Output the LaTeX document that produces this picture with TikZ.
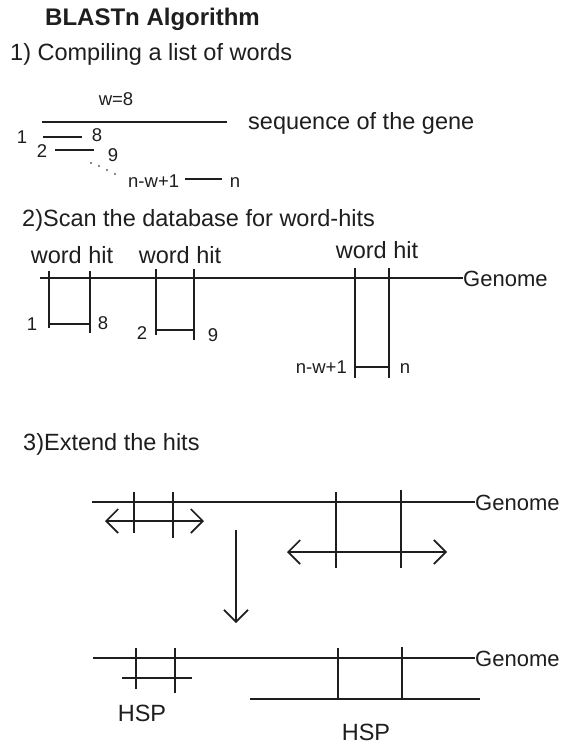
\documentclass[tikz,border=0pt]{standalone}
\usepackage{fontspec}
\setmainfont{Liberation Sans}
\usetikzlibrary{arrows.meta}
\definecolor{ink}{HTML}{1E1E1E}
\begin{document}
\begin{tikzpicture}[x=1pt,y=1pt,
  ln/.style={draw=ink,line width=1.7pt},
  big/.style={inner sep=0pt,text=ink,font=\fontsize{23.5}{28}\selectfont},
  small/.style={inner sep=0pt,text=ink,font=\fontsize{18.5}{22}\selectfont},
  ttl/.style={inner sep=0pt,text=ink,font=\fontsize{24}{28}\selectfont\bfseries},
  barb/.tip={Straight Barb[length=12pt,width=24pt,line width=1.7pt]},
  dbl/.style={ln,barb-barb},
  down/.style={ln,-barb},
  dotty/.style={fill=ink!70,draw=none}]
\useasboundingbox[fill=white] (0,0) rectangle (564,-746);

% ---------- headings ----------
\node[ttl,anchor=base west] (title) at (45,-26) {BLASTn Algorithm};
\node[big,anchor=base west] (h1) at (10,-61) {1) Compiling a list of words};

% ---------- section 1 ----------
\node[small,anchor=base] (w8) at (116,-106) {w=8};
\coordinate (s1a) at (42,-122);
\coordinate (s1b) at (227,-122);
\draw[ln] (s1a) -- (s1b);
\node[big,anchor=base west] (seq) at (248,-130) {sequence of the gene};

\node[small,anchor=base] (l1) at (22,-143.5) {1};
\node[small,anchor=base] (l8) at (97,-142) {8};
\draw[ln] (43,-137) -- (82,-137);
\node[small,anchor=base] (l2) at (42,-158) {2};
\node[small,anchor=base] (l9) at (113,-162) {9};
\draw[ln] (55,-150) -- (94,-150);
\fill[dotty] (91,-163) circle (1.2);
\fill[dotty] (99,-166) circle (1.2);
\fill[dotty] (107,-170) circle (1.2);
\fill[dotty] (115,-174) circle (1.2);
\node[small,anchor=base west] (lnw) at (128,-187) {n-w+1};
\draw[ln] (185,-179) -- (222,-179);
\node[small,anchor=base] (ln1) at (235,-187) {n};

% ---------- section 2 ----------
\node[big,anchor=base west] (h2) at (22,-226) {2)Scan the database for word-hits};
\node[big,anchor=base] (wh1) at (72,-263) {word hit};
\node[big,anchor=base] (wh2) at (180,-263) {word hit};
\node[big,anchor=base] (wh3) at (377,-258) {word hit};
\node[big,anchor=base west,font=\fontsize{22}{26}\selectfont] (gen2) at (463,-286) {Genome};
\draw[ln] (40,-278) -- (gen2.west|-0,-278);

% box 1
\draw[ln] (49,-271) -- (49,-328);
\draw[ln] (90,-271) -- (90,-333);
\draw[ln] (49,-324) -- (90,-324);
\node[small,anchor=base] (b1a) at (32,-330) {1};
\node[small,anchor=base] (b1b) at (103,-329) {8};
% box 2
\draw[ln] (156,-269) -- (156,-335);
\draw[ln] (194,-269) -- (194,-340);
\draw[ln] (156,-330) -- (194,-330);
\node[small,anchor=base] (b2a) at (142,-339) {2};
\node[small,anchor=base] (b2b) at (213,-341) {9};
% box 3
\draw[ln] (355,-268) -- (355,-378);
\draw[ln] (389,-268) -- (389,-378);
\draw[ln] (355,-367) -- (389,-367);
\node[small,anchor=base east] (b3a) at (347,-373) {n-w+1};
\node[small,anchor=base] (b3b) at (405,-373) {n};

% ---------- section 3 ----------
\node[big,anchor=base west] (h3) at (23,-450) {3)Extend the hits};
\node[big,anchor=base west,font=\fontsize{22}{26}\selectfont] (gen3) at (475,-510) {Genome};
\draw[ln] (92,-502) -- (gen3.west|-0,-502);
\draw[ln] (134,-492) -- (134,-533);
\draw[ln] (173,-492) -- (173,-538);
\draw[dbl] (105,-521) -- (204,-521);
\draw[ln] (336,-492) -- (336,-568);
\draw[ln] (401,-490) -- (401,-568);
\draw[dbl] (287,-552) -- (447,-552);

\coordinate (arrA) at (236,-530);
\coordinate (arrB) at (236,-623);
\draw[down] (arrA) -- (arrB);

\node[big,anchor=base west,font=\fontsize{22}{26}\selectfont] (gen4) at (475,-666) {Genome};
\draw[ln] (93,-658) -- (gen4.west|-0,-658);
\draw[ln] (136,-648) -- (136,-689);
\draw[ln] (175,-648) -- (175,-693);
\draw[ln] (122,-678) -- (192,-678);
\node[big,anchor=base] (hsp1) at (142,-721) {HSP};
\draw[ln] (338,-648) -- (338,-700);
\draw[ln] (402,-647) -- (402,-700);
\draw[ln] (250,-699) -- (480,-699);
\node[big,anchor=base] (hsp2) at (366,-740) {HSP};
\end{tikzpicture}
\end{document}
